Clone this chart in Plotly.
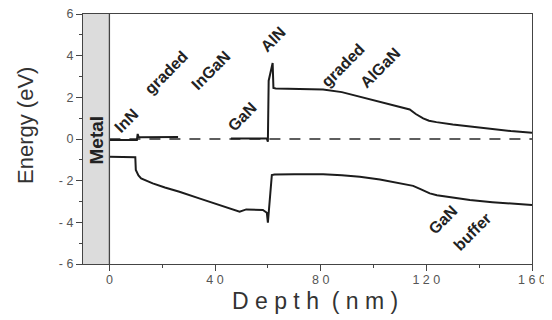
import plotly.graph_objects as go

# ---- data ----
cb_depth = [0, 5, 9.6, 10.4, 10.7, 11.1, 12, 18, 26, None,
            46, 52, 58, 59.6, 60.0, 60.3, 61.8, 62.1, 63, 70, 80.9, 88, 95,
            102.4, 108, 113.7, 116, 118.8, 121, 123.8, 130, 136.5, 145, 152, 160]
cb_energy = [-0.05, -0.05, -0.07, -0.05, 0.24, 0.08, 0.08, 0.1, 0.1, None,
             0.03, 0.03, 0.03, 0.02, -0.13, 2.8, 3.65, 2.45, 2.43, 2.42, 2.38, 2.25, 2.03,
             1.79, 1.6, 1.42, 1.2, 0.99, 0.88, 0.81, 0.7, 0.6, 0.48, 0.38, 0.3]

vb_depth = [0, 5, 9.8, 10.0, 11, 12, 16.4, 21, 26.5, 34, 42, 49.3, 51.8, 58.1,
            59.6, 60.0, 61.5, 62.5, 70, 80.9, 88, 94.8, 102.4, 110, 115, 118,
            121.3, 124, 127.7, 136.5, 145, 152, 160]
vb_energy = [-0.85, -0.85, -0.87, -1.49, -1.75, -1.89, -2.13, -2.33, -2.53, -2.85,
             -3.18, -3.49, -3.38, -3.41, -3.54, -4.02, -1.73, -1.70, -1.69, -1.69,
             -1.74, -1.81, -1.94, -2.12, -2.25, -2.42, -2.61, -2.70, -2.77, -2.93,
             -3.03, -3.10, -3.17]

fermi_depth = [0, 160]
fermi_energy = [0, 0]

metal_range = [-10, 0]

x_tickvals = [0, 40, 80, 120, 160]
x_ticktext = ["0", "4 0", "8 0", "1 2 0", "1 6 0"]
y_tickvals = [-6, -4, -2, 0, 2, 4, 6]
y_ticktext = ["- 6", "- 4", "- 2", "0", "2", "4", "6"]

x_title = "D e p t h &nbsp;( n m )"
y_title = "Energy (eV)"

layer_labels = ["InN", "graded", "InGaN", "GaN", "AlN", "graded", "AlGaN", "GaN", "buffer"]
# label anchor positions (depth, energy)
label_pos = [(6.4, 0.91), (21.6, 3.17), (38.3, 3.31), (50.4, 1.06), (61.8, 4.8),
             (88.3, 3.55), (102.7, 3.41), (126.3, -3.84), (137.6, -4.46)]

line_col = "#1c1c1c"
font_fam = "Liberation Sans, Arial"

fig = go.Figure()
fig.add_trace(go.Scatter(x=fermi_depth, y=fermi_energy, mode="lines",
                         line=dict(color="#2a2a2a", width=1.6, dash="11px,9px"),
                         hoverinfo="skip", showlegend=False))
fig.add_trace(go.Scatter(x=cb_depth, y=cb_energy, mode="lines", connectgaps=False,
                         line=dict(color=line_col, width=2), showlegend=False))
fig.add_trace(go.Scatter(x=vb_depth, y=vb_energy, mode="lines",
                         line=dict(color=line_col, width=2), showlegend=False))

# metal region
fig.add_shape(type="rect", xref="x", yref="paper", x0=metal_range[0], x1=metal_range[1],
              y0=0, y1=1, fillcolor="#dcdcdc", line=dict(width=0), layer="below")
fig.add_shape(type="line", xref="x", yref="paper", x0=metal_range[1], x1=metal_range[1],
              y0=0, y1=1, line=dict(color="#444", width=1.3))

fig.add_annotation(x=-4.9, y=-0.05, xref="x", yref="y", text="<b>Metal</b>",
                   textangle=-90, showarrow=False,
                   font=dict(family=font_fam, size=19, color="#222"))

for txt, (lx, ly) in zip(layer_labels, label_pos):
    fig.add_annotation(x=lx, y=ly, xref="x", yref="y", text="<b>" + txt + "</b>",
                       textangle=-45, showarrow=False,
                       font=dict(family=font_fam, size=16, color="#222"))

# axis titles
fig.add_annotation(x=0.5167, y=-0.148, xref="paper", yref="paper", text=x_title,
                   showarrow=False, xanchor="center", yanchor="middle",
                   font=dict(family=font_fam, size=23, color="#333"))
fig.add_annotation(x=-0.127, y=0.556, xref="paper", yref="paper", text=y_title,
                   textangle=-90, showarrow=False, xanchor="center", yanchor="middle",
                   font=dict(family=font_fam, size=22, color="#333"))

axis_common = dict(showgrid=False, zeroline=False, showline=True, linecolor="#444",
                   linewidth=1.3, mirror=True, ticks="outside", ticklen=6,
                   tickcolor="#444", tickwidth=1.2, automargin=False,
                   ticklabeloverflow="allow",
                   tickfont=dict(family=font_fam, size=12.5, color="#555"))

fig.update_xaxes(range=[-10, 160], tickvals=x_tickvals, ticktext=x_ticktext,
                 minor=dict(tickvals=[20, 60, 100, 140], ticklen=3, ticks="outside",
                            tickcolor="#444"),
                 ticklabelstandoff=-2, **axis_common)
fig.update_yaxes(range=[-6, 6], tickvals=y_tickvals, ticktext=y_ticktext,
                 minor=dict(tickvals=[-5, -3, -1, 1, 3, 5], ticklen=3, ticks="outside",
                            tickcolor="#444"),
                 **axis_common)

# page body has an 8px default margin, so the figure is sized to fit the window
fig.update_layout(width=544, height=312, margin=dict(l=75, r=20, t=6, b=56),
                  plot_bgcolor="white", paper_bgcolor="white")

fig.write_html("out.html")
